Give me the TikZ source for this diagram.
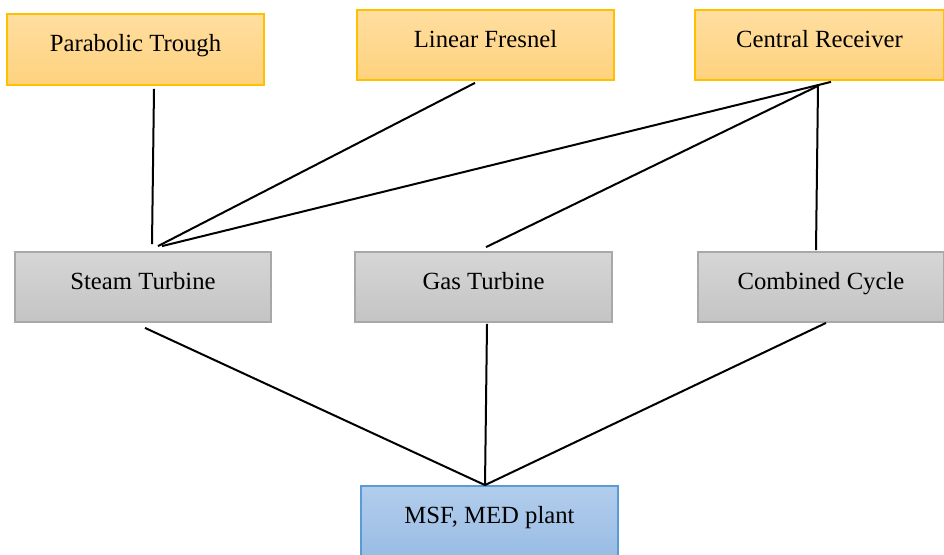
\documentclass[tikz,border=0pt]{standalone}
\usepackage{fontspec}
\setmainfont{Liberation Serif}
\begin{document}
\begin{tikzpicture}[x=1pt,y=-1pt,
  box/.style={rectangle,line width=1.8pt,minimum height=70pt,inner sep=0pt,
    font=\fontsize{24.7}{28}\selectfont,text height=18pt,text depth=14pt},
  ybox/.style={box,draw={rgb,255:red,255;green,192;blue,0},top color={rgb,255:red,255;green,222;blue,160},bottom color={rgb,255:red,254;green,210;blue,126}},
  gbox/.style={box,draw={rgb,255:red,168;green,168;blue,168},top color={rgb,255:red,214;green,214;blue,214},bottom color={rgb,255:red,196;green,196;blue,196}},
  bbox/.style={box,draw={rgb,255:red,91;green,155;blue,213},top color={rgb,255:red,178;green,205;blue,236},bottom color={rgb,255:red,150;green,186;blue,227}},
  conn/.style={line width=2pt,black}]
\useasboundingbox (0,0) rectangle (944,554);
\node[ybox,minimum width=257pt,minimum height=71pt] (pt) at (135.5,49.5) {Parabolic Trough};
\node[ybox,minimum width=257pt] (lf) at (485.5,45) {Linear Fresnel};
\node[ybox,minimum width=249pt] (cr) at (819.5,45) {Central Receiver};
\node[gbox,minimum width=256pt] (st) at (143,287) {Steam Turbine};
\node[gbox,minimum width=257pt] (gt) at (483.5,287) {Gas Turbine};
\node[gbox,minimum width=246pt] (cc) at (821,287) {Combined Cycle};
\node[bbox,minimum width=257pt,minimum height=80pt,text depth=24pt] (msf) at (489.5,526) {MSF, MED plant};
\draw[conn] ([xshift=18.5pt,yshift=-3pt]pt.south) -- ([xshift=9pt,yshift=7pt]st.north);
\draw[conn] ([xshift=-10.5pt,yshift=-2pt]lf.south) -- ([xshift=15pt,yshift=5pt]st.north);
\draw[conn] ([xshift=11.5pt,yshift=-1pt]cr.south) -- ([xshift=19pt,yshift=5pt]st.north);
\draw[conn] ([xshift=-1.5pt,yshift=-5pt]cr.south) -- ([xshift=2.5pt,yshift=4pt]gt.north);
\draw[conn] ([xshift=-1.5pt,yshift=-5pt]cr.south) -- ([xshift=-5pt,yshift=1pt]cc.north);
\draw[conn] ([xshift=2pt,yshift=-5pt]st.south) -- ([xshift=-4.5pt]msf.north);
\draw[conn] ([xshift=3.5pt,yshift=-1pt]gt.south) -- ([xshift=-4.5pt]msf.north);
\draw[conn] ([xshift=5pt]cc.south) -- ([xshift=-4.5pt]msf.north);
\end{tikzpicture}
\end{document}
